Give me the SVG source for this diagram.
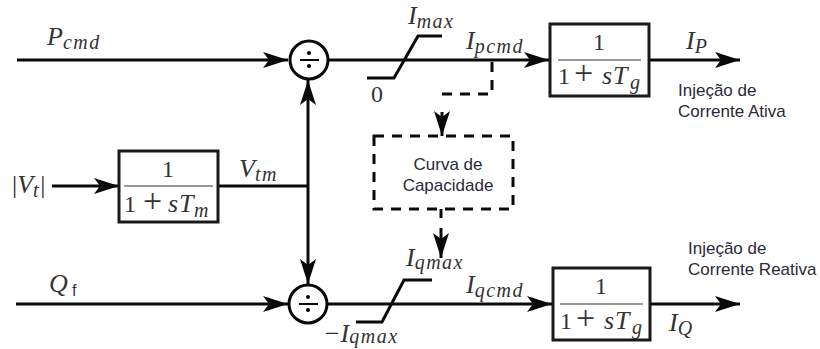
<svg xmlns="http://www.w3.org/2000/svg" width="820" height="349" viewBox="0 0 820 349">
<style>
.w{fill:none;stroke:#0a0a0a;stroke-width:3}
.d{fill:none;stroke:#0a0a0a;stroke-width:3;stroke-dasharray:10 8}
.b{fill:#fff;stroke:#1a1a1a;stroke-width:3}
.f{stroke:#777;stroke-width:1.5}
.c{fill:#fff;stroke:#0a0a0a;stroke-width:3}
.m{font-family:"Liberation Serif",serif;font-size:26px;font-style:italic;fill:#333}
.s{font-size:20px;letter-spacing:1.5px}
.p{font-style:normal;font-size:34px}
.o{font-style:normal}
.n{font-family:"Liberation Serif",serif;font-size:24px;fill:#333;text-anchor:middle}
.l{font-family:"Liberation Sans",sans-serif;font-size:17px;fill:#2a2a3a}
.g{stroke:#0a0a0a;stroke-width:2}
</style>
<defs>
<marker id="a" markerUnits="userSpaceOnUse" markerWidth="26" markerHeight="20" refX="25" refY="10" orient="auto"><path d="M0 2L25 10L0 18L6 10Z" fill="#0a0a0a"/></marker>
</defs>
<rect width="820" height="349" fill="#fff"/>
<g id="connectors">
<path class="w" d="M17 60H288" marker-end="url(#a)"/>
<path class="w" d="M328 60H549" marker-end="url(#a)"/>
<path class="w" d="M649 60H740" marker-end="url(#a)"/>
<path class="w" d="M52 186H119" marker-end="url(#a)"/>
<path class="w" d="M218 186H308"/>
<path class="w" d="M308 186V80" marker-end="url(#a)"/>
<path class="w" d="M308 186V284" marker-end="url(#a)"/>
<path class="w" d="M16 304H288" marker-end="url(#a)"/>
<path class="w" d="M328 304H552" marker-end="url(#a)"/>
<path class="w" d="M650 304H740" marker-end="url(#a)"/>
<path class="d" d="M492 62V94H442"/>
<path class="w" d="M442 112V136" marker-end="url(#a)"/>
<path class="w" d="M441 209V218"/>
<path class="w" d="M441 228V258" marker-end="url(#a)"/>
</g>
<g id="sat-top"><path class="w" d="M367 78H394L418 36H442"/>
<text class="n" x="377" y="102">0</text>
<text class="m" x="408" y="24">I<tspan class="s" dy="4">max</tspan></text></g>
<g id="sat-bottom"><path class="w" d="M356 322H382L404 280H432"/>
<text class="m" x="323" y="342">−I<tspan class="s" dy="1">qmax</tspan></text>
<text class="m" x="406" y="266">I<tspan class="s" dy="3">qmax</tspan></text></g>
<g id="div-top"><circle class="c" cx="309" cy="60" r="19"/><path class="g" d="M300 60H319"/><circle cx="309" cy="53" r="2"/><circle cx="309" cy="66" r="2"/></g>
<g id="div-bottom"><circle class="c" cx="308" cy="304" r="19"/><path class="g" d="M299 304H318"/><circle cx="308" cy="297" r="2"/><circle cx="308" cy="310" r="2"/></g>
<g id="block-tm"><rect class="b" x="119" y="151" width="99" height="71"/><path class="f" d="M124 186H213"/>
<text class="n" x="168" y="177">1</text>
<text class="m" x="124" y="212"><tspan class="o" font-size="24">1</tspan><tspan class="p" x="143">+</tspan><tspan x="168">s</tspan><tspan x="179">T</tspan><tspan class="s" dy="5" x="194">m</tspan></text></g>
<g id="block-p"><rect class="b" x="550" y="24" width="99" height="72"/><path class="f" d="M558 60H641"/>
<text class="n" x="599" y="50">1</text>
<text class="m" x="558" y="84"><tspan class="o" font-size="24">1</tspan><tspan class="p" x="574">+</tspan><tspan x="602">s</tspan><tspan x="613">T</tspan><tspan class="s" dy="5" x="630">g</tspan></text></g>
<g id="block-q"><rect class="b" x="553" y="268" width="97" height="72"/><path class="f" d="M560 304H643"/>
<text class="n" x="601" y="294">1</text>
<text class="m" x="560" y="329"><tspan class="o" font-size="24">1</tspan><tspan class="p" x="576">+</tspan><tspan x="604">s</tspan><tspan x="615">T</tspan><tspan class="s" dy="5" x="632">g</tspan></text></g>
<g id="curva"><rect x="374" y="136" width="139" height="73" class="d"/>
<text class="l" x="448" y="170" text-anchor="middle">Curva de</text>
<text class="l" x="448" y="191" text-anchor="middle">Capacidade</text></g>
<g id="labels">
<text class="m" x="47" y="45">P<tspan class="s" dy="4">cmd</tspan></text>
<text class="m" x="466" y="49">I<tspan class="s" dy="4">pcmd</tspan></text>
<text class="m" x="686" y="49">I<tspan class="s" dy="4">P</tspan></text>
<text class="m" x="12" y="193"><tspan class="o">|</tspan>V<tspan class="s" dy="4">t</tspan><tspan class="o" dy="-4">|</tspan></text>
<text class="m" x="239" y="177">V<tspan class="s" dy="4">tm</tspan></text>
<text class="m" x="49" y="292">Q<tspan x="72" dy="4" font-family="Liberation Sans" font-size="16" fill="#2a3a5a" font-style="normal">f</tspan></text>
<text class="m" x="466" y="293">I<tspan class="s" dy="4">qcmd</tspan></text>
<text class="m" x="669" y="331">I<tspan class="s" dy="4">Q</tspan></text>
<text class="l" x="678" y="96">Injeção de</text>
<text class="l" x="678" y="117">Corrente Ativa</text>
<text class="l" x="688" y="254">Injeção de</text>
<text class="l" x="688" y="275">Corrente Reativa</text>
</g>
</svg>
